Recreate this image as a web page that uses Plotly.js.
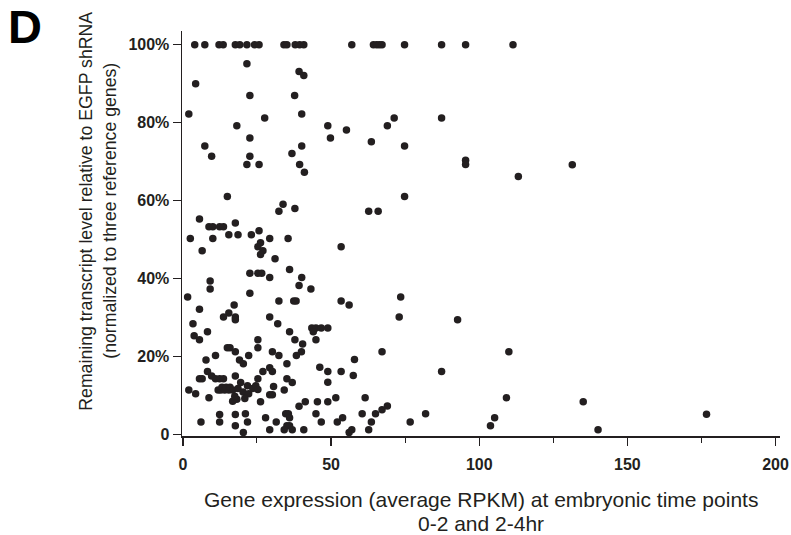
<!DOCTYPE html>
<html>
<head>
<meta charset="utf-8">
<script src="https://cdn.plot.ly/plotly-3.0.1.min.js"></script>
<style>
html,body{margin:0;padding:0;background:#fff;}
#chart{width:791px;height:535px;}
</style>
</head>
<body>
<div id="chart"></div>
<script>
// Gene expression (average RPKM) and remaining transcript level (%)
const rpkm = [
  4.0, 7.4, 12.2, 13.6, 17.7, 19.2, 21.6, 24.2, 25.7, 34.1, 35.1, 37.9, 39.4, 40.8, 57.0, 64.3, 65.4, 66.3, 67.2, 74.8, 87.3, 95.4, 111.4,
  21.6, 39.2, 40.8, 4.3, 22.6, 37.7, 2.0, 27.6, 40.1, 18.2, 48.9, 55.2, 22.6, 49.8, 7.4, 40.1, 9.7, 22.6, 36.8, 39.4, 41.0, 21.6, 25.7, 63.6, 69.0, 71.3, 87.3, 74.8, 95.4, 95.4, 113.2, 74.8, 62.7, 65.9, 131.4, 135.1, 140.1, 176.7,
  15.0, 33.8, 32.4, 37.8, 5.6, 8.8, 10.1, 12.4, 13.7, 17.7, 2.5, 10.1, 15.5, 18.6, 23.1, 25.7, 29.3, 35.5, 6.5, 26.2, 25.3, 27.0, 26.2, 31.1, 53.4, 36.0, 22.6, 25.3, 26.6, 29.3, 40.1, 9.2, 9.2, 39.2, 43.2, 22.6, 1.6,
  53.4, 56.1, 73.5, 73.0, 92.7, 43.5, 44.9, 46.7, 48.9, 44.0, 44.9, 40.4, 40.0, 67.2, 110.0, 46.2, 48.9, 53.4, 57.9, 57.5, 48.9, 87.3, 41.3, 45.4, 48.9, 51.6, 61.5, 109.2, 44.9, 46.7, 52.1, 53.9, 60.5, 63.6, 65.0, 67.2, 69.0, 76.7, 81.9, 105.2, 103.8, 40.8, 56.1, 57.0, 62.7,
  32.4, 37.4, 38.2, 5.6, 17.3, 15.5, 13.7, 17.7, 17.7, 29.3, 32.0, 3.4, 3.8, 5.6, 8.3, 36.0, 37.8, 25.3, 25.3, 15.0, 15.9, 17.7, 7.8, 11.0, 19.1, 20.4, 22.2, 30.2, 32.4, 35.1, 38.3, 8.3, 5.6, 6.5, 9.7, 11.0, 12.4, 13.7, 17.7, 19.5, 25.3, 27.0, 29.3, 30.2, 35.1, 36.9,
  2.0, 4.3, 8.8, 11.9, 12.8, 13.2, 14.1, 14.6, 15.5, 15.9, 16.8, 18.6, 16.8, 18.2, 17.5, 20.3, 22.2, 21.8, 23.6, 24.6, 25.3, 20.9, 26.2, 30.6, 29.3, 30.2, 34.2, 39.2,
  12.4, 12.4, 6.1, 17.7, 17.7, 21.1, 21.8, 20.4, 27.9, 31.5, 29.3, 34.7, 35.6, 36.0, 35.1, 36.0, 34.2, 36.9
];
const remaining = [
  100, 100, 100, 100, 100, 100, 100, 100, 100, 100, 100, 100, 100, 100, 100, 100, 100, 100, 100, 100, 100, 100, 100,
  95.1, 93.1, 92.1, 90.0, 87.0, 87.0, 82.2, 81.2, 82.2, 79.2, 79.2, 78.1, 76.1, 76.1, 74.0, 74.0, 71.4, 71.4, 72.1, 69.3, 67.3, 69.3, 69.3, 75.1, 79.2, 81.2, 81.2, 74.0, 70.4, 69.3, 66.2, 61.1, 57.3, 57.3, 69.2, 8.5, 1.3, 5.3,
  61.1, 59.1, 57.3, 58.0, 55.3, 53.3, 53.3, 53.3, 53.3, 54.3, 50.3, 50.3, 51.3, 51.3, 51.3, 52.3, 50.3, 50.3, 47.2, 49.2, 48.2, 47.2, 46.2, 45.1, 48.2, 42.4, 41.4, 41.4, 41.4, 40.3, 40.3, 39.4, 37.4, 38.3, 37.4, 36.3, 35.3,
  34.3, 33.3, 35.3, 30.2, 29.5, 27.4, 27.4, 27.4, 27.4, 26.4, 24.4, 23.3, 21.3, 21.3, 21.3, 17.3, 16.2, 16.2, 19.3, 15.2, 13.5, 16.2, 8.5, 8.5, 8.5, 9.5, 9.5, 9.5, 5.4, 3.3, 3.3, 4.4, 5.4, 3.3, 5.4, 6.4, 7.4, 3.3, 5.4, 4.4, 2.3, 1.3, 0.6, 1.3, 1.3,
  34.3, 34.3, 34.3, 32.2, 33.3, 31.2, 30.2, 30.2, 29.5, 30.2, 28.5, 28.5, 25.4, 24.4, 26.4, 26.4, 24.4, 24.4, 22.3, 22.3, 22.3, 21.3, 19.2, 20.3, 19.2, 18.2, 20.3, 21.3, 20.3, 18.2, 20.3, 16.2, 14.4, 14.4, 15.1, 14.4, 14.4, 14.4, 15.1, 13.4, 14.4, 16.2, 17.2, 16.2, 14.4, 13.4,
  11.5, 10.5, 9.5, 11.5, 11.5, 12.2, 11.5, 12.2, 11.5, 12.2, 11.5, 11.9, 8.6, 9.1, 9.9, 11.0, 10.5, 12.6, 11.9, 12.6, 11.6, 9.3, 8.5, 12.4, 10.3, 10.3, 11.5, 7.3,
  5.2, 3.3, 3.3, 5.2, 2.3, 5.4, 3.3, 0.6, 4.4, 3.3, 1.3, 5.4, 5.4, 4.4, 2.3, 2.3, 1.3, 1.3
];
const xTickVals = [0, 50, 100, 150, 200];
const xTickText = ["0", "50", "100", "150", "200"];
const yTickVals = [0, 20, 40, 60, 80, 100];
const yTickText = ["0", "20%", "40%", "60%", "80%", "100%"];
const xTitleLines = ["Gene expression (average RPKM) at embryonic time points", "0-2 and 2-4hr"];
const yTitleLines = ["Remaining transcript level relative to EGFP shRNA", "(normalized to three reference genes)"];
const panelLabel = "D";

const ink = "#231f20";
const fam = "Liberation Sans, Arial, sans-serif";
const trace = {
  x: rpkm, y: remaining, type: "scatter", mode: "markers",
  marker: {color: ink, size: 7.5, line: {width: 0}},
  hoverinfo: "x+y"
};
const xTitleFont = {size: 21, family: fam, color: ink};
const yTitleFont = {size: 17.7, family: fam, color: ink};
const layout = {
  width: 791, height: 535,
  margin: {l: 182, r: 11, t: 31, b: 99, pad: 0},
  paper_bgcolor: "#fff", plot_bgcolor: "#fff",
  showlegend: false,
  font: {family: fam, color: ink},
  xaxis: {
    range: [-0.3, 201.5], showgrid: false, zeroline: false,
    showline: true, linecolor: ink, linewidth: 1.5,
    ticks: "outside", ticklen: 8, tickwidth: 1.3, tickcolor: ink,
    tickvals: xTickVals, ticktext: xTickText, ticklabelstandoff: 5,
    tickfont: {size: 16, family: fam, weight: "bold", color: ink},
    minor: {ticks: "outside", ticklen: 5, tickwidth: 1, tickcolor: ink, dtick: 25, tick0: 0, showgrid: false},
    fixedrange: true
  },
  yaxis: {
    range: [-0.3, 103.5], showgrid: false, zeroline: false,
    showline: true, linecolor: ink, linewidth: 1.5,
    ticks: "outside", ticklen: 8, tickwidth: 1.3, tickcolor: ink,
    tickvals: yTickVals, ticktext: yTickText,
    tickfont: {size: 16, family: fam, weight: "bold", color: ink},
    fixedrange: true
  },
  annotations: [
    {text: xTitleLines[0], xref: "paper", yref: "paper", x: 0.5, y: -0.157, xanchor: "center", yanchor: "middle",
     showarrow: false, font: xTitleFont},
    {text: xTitleLines[1], xref: "paper", yref: "paper", x: 0.5, y: -0.216, xanchor: "center", yanchor: "middle",
     showarrow: false, font: xTitleFont},
    {text: yTitleLines[0], xref: "paper", yref: "paper", x: -0.1607, y: 0.556, xanchor: "center", yanchor: "middle",
     textangle: -90, showarrow: false, font: yTitleFont},
    {text: yTitleLines[1], xref: "paper", yref: "paper", x: -0.1206, y: 0.556, xanchor: "center", yanchor: "middle",
     textangle: -90, showarrow: false, font: yTitleFont},
    {text: "<b>" + panelLabel + "</b>", xref: "paper", yref: "paper", x: -0.2626, y: 1.011, xanchor: "center", yanchor: "middle",
     showarrow: false, font: {size: 47, family: fam, color: "#000"}}
  ]
};
Plotly.newPlot("chart", [trace], layout, {displayModeBar: false, staticPlot: true});
</script>
</body>
</html>
